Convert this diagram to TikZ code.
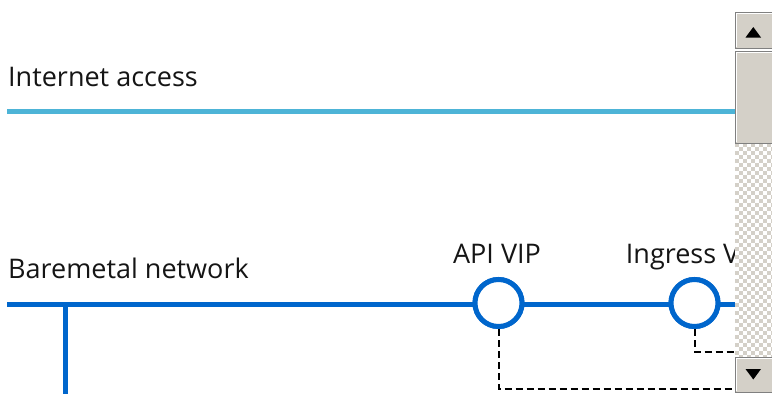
\documentclass[tikz,border=0pt]{standalone}
\usepackage{fontspec}
\setmainfont{Open Sans}
\usetikzlibrary{positioning}
\definecolor{inetcyan}{HTML}{4DB4D7}
\definecolor{bmblue}{HTML}{0066CC}
\definecolor{labelgrey}{HTML}{151515}
\definecolor{sbface}{HTML}{D4D0C8}
\definecolor{sbshadow}{HTML}{808080}
\tikzset{
  netlabel/.style={font=\fontsize{27}{32}\selectfont, text=labelgrey, inner sep=0pt, anchor=base west},
  viplabel/.style={netlabel, anchor=base},
  inetline/.style={line width=4.5pt, inetcyan},
  netline/.style={line width=5pt, bmblue},
  vip/.style={circle, draw=bmblue, line width=5pt, fill=white, minimum size=47pt, inner sep=0pt},
  vipwire/.style={line width=2pt, black, dash pattern=on 7pt off 4pt},
  sbbutton/.style={fill=sbface, draw=sbshadow, line width=1pt},
  sbarrow/.style={fill=black},
}
\begin{document}
\begin{tikzpicture}[x=1pt, y=-1pt]
\useasboundingbox (0,0) rectangle (772,394);
\fill[white] (0,0) rectangle (772,394);

% diagram, cut off by the scroll bar
\begin{scope}
\clip (0,0) rectangle (735,394);
\node[netlabel] (inet) at (8,86) {Internet access};
\coordinate (inetL) at (7,111.5);
\coordinate (inetR) at (740,111.5);
\draw[inetline] (inetL) -- (inetR);

\node[netlabel] (bm) at (8,278) {Baremetal network};
\coordinate (bmL) at (7,304);
\coordinate (bmR) at (740,304);
\draw[netline] (bmL) -- (bmR);
\coordinate (tap) at (65.5,304);
\coordinate (tapEnd) at (65.5,394);
\draw[netline] (tap) -- (tapEnd);

\coordinate (apiEnd) at (740,389);
\coordinate (ingressEnd) at (740,352);
\node[vip] (api) at (498.5,303) {};
\node[vip] (ingress) at (694.5,303) {};
\draw[vipwire] (api.south) |- (apiEnd);
\draw[vipwire] (ingress.south) |- (ingressEnd);
\node[vip] at (api) {};
\node[vip] at (ingress) {};
\node[viplabel] (apiLbl) at (497,263) {API VIP};
\node[viplabel] (ingressLbl) at (694.5,263) {Ingress VIP};
\end{scope}

% scroll bar
\begin{scope}
\clip (735,143) rectangle (772,357);
\fill[white] (735,143) rectangle (772,357);
\foreach \j in {0,...,53} {
  \pgfmathtruncatemacro\off{mod(\j,2)*4}
  \foreach \i in {0,8,...,32}
    \fill[sbface] (735+\i+\off,143+4*\j) rectangle ++(4,4);
}
\end{scope}
\draw[sbbutton] (735.5,12.5) rectangle (773,48);
\draw[sbbutton] (735.5,51.5) rectangle (773,143);
\draw[sbbutton] (735.5,357.5) rectangle (773,392);
\draw[white, line width=1pt] (736.5,47) |- (772,13.5);
\draw[white, line width=1pt] (736.5,142) |- (772,52.5);
\draw[white, line width=1pt] (736.5,391) |- (772,358.5);
\fill[sbarrow] (745.5,37.5) -- (761,37.5) -- (753.3,27) -- cycle;
\fill[sbarrow] (745.5,369) -- (761,369) -- (753.3,379.5) -- cycle;
\end{tikzpicture}
\end{document}
